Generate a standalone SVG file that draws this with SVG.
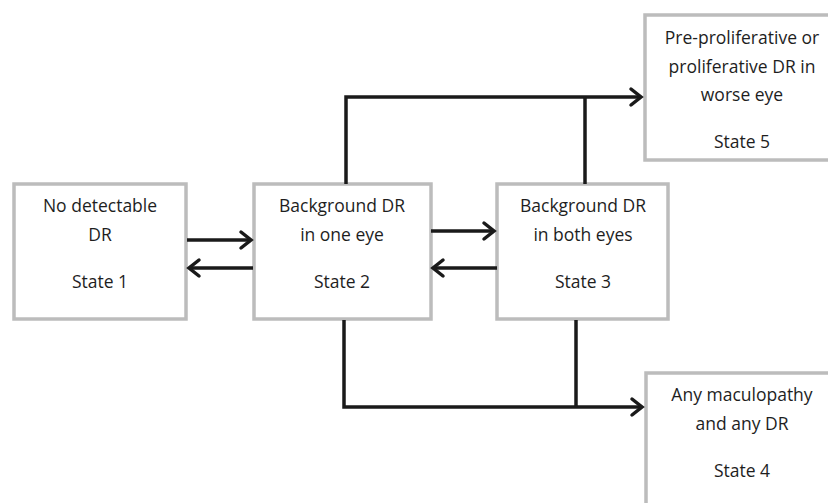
<svg xmlns="http://www.w3.org/2000/svg" width="828" height="503" viewBox="0 0 828 503">
<style>
.box{fill:#fff;stroke:#bcbcbc;stroke-width:3.5}
.t{font-family:"Open Sans","Liberation Sans",sans-serif;font-size:17.5px;fill:#1e1e1e;text-anchor:middle}
.ln{fill:none;stroke:#1a1a1a;stroke-width:3.5;stroke-linecap:butt;stroke-linejoin:miter}
.ah{fill:none;stroke:#1a1a1a;stroke-width:3.5;stroke-linecap:round;stroke-linejoin:miter}
</style>
<rect width="828" height="503" fill="#fff"/>
<g id="state1">
<rect class="box" x="14" y="184" width="172" height="135"/>
<text class="t" x="100" y="212">No detectable</text>
<text class="t" x="100" y="241">DR</text>
<text class="t" x="100" y="288">State 1</text>
</g>
<g id="state2">
<rect class="box" x="254" y="184" width="177" height="135"/>
<text class="t" x="342" y="212">Background DR</text>
<text class="t" x="342" y="241">in one eye</text>
<text class="t" x="342" y="288">State 2</text>
</g>
<g id="state3">
<rect class="box" x="497" y="184" width="171" height="135"/>
<text class="t" x="583" y="212">Background DR</text>
<text class="t" x="583" y="241">in both eyes</text>
<text class="t" x="583" y="288">State 3</text>
</g>
<g id="state5">
<rect class="box" x="645" y="15" width="200" height="145"/>
<text class="t" x="742" y="44">Pre-proliferative or</text>
<text class="t" x="742" y="73">proliferative DR in</text>
<text class="t" x="742" y="101">worse eye</text>
<text class="t" x="742" y="148">State 5</text>
</g>
<g id="state4">
<rect class="box" x="646" y="373" width="200" height="145"/>
<text class="t" x="742" y="401">Any maculopathy</text>
<text class="t" x="742" y="430">and any DR</text>
<text class="t" x="742" y="477">State 4</text>
</g>
<g id="connectors">
<path class="ln" d="M187 240H251"/>
<path class="ah" d="M241 232L251 240L241 248"/>
<path class="ln" d="M253 268H189"/>
<path class="ah" d="M199 260L189 268L199 276"/>
<path class="ln" d="M431 231H494"/>
<path class="ah" d="M484 223L494 231L484 239"/>
<path class="ln" d="M497 268H433"/>
<path class="ah" d="M443 260L433 268L443 276"/>
<path class="ln" d="M346 184V97H641"/>
<path class="ah" d="M631 89L641 97L631 105"/>
<path class="ln" d="M585 184V97"/>
<path class="ln" d="M344 320V407H642"/>
<path class="ah" d="M632 399L642 407L632 415"/>
<path class="ln" d="M576 320V407"/>
</g>
</svg>
